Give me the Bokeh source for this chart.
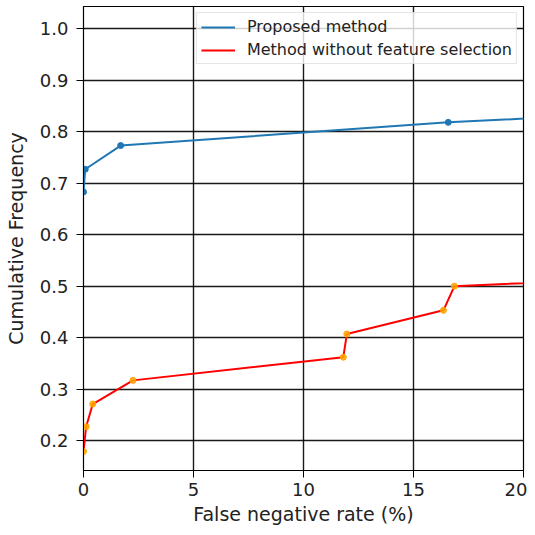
from bokeh.plotting import figure
from bokeh.models import Range1d, FixedTicker, Legend, LegendItem
from bokeh.embed import file_html
from bokeh.resources import INLINE

# Data
prop_fnr = [0.0, 0.08, 1.69, 16.58, 25.0]
prop_freq = [0.683, 0.727, 0.773, 0.818, 0.836]

nofs_fnr = [0.0, 0.12, 0.42, 2.25, 11.81, 11.97, 16.36, 16.86, 25.0]
nofs_freq = [0.179, 0.227, 0.271, 0.317, 0.362, 0.407, 0.453, 0.500, 0.515]

x_ticks = [0, 5, 10, 15, 20]
y_ticks = [0.2, 0.3, 0.4, 0.5, 0.6, 0.7, 0.8, 0.9, 1.0]

FONT = "DejaVu Sans"

p = figure(width=527, height=527, output_backend="svg", toolbar_location=None,
           x_range=Range1d(0, 20), y_range=Range1d(0.142, 1.043),
           min_border_left=83, min_border_right=4, min_border_top=6, min_border_bottom=57)

p.outline_line_color = "black"
p.outline_line_width = 1.2

for ax in (p.xaxis[0], p.yaxis[0]):
    ax.axis_line_color = "black"
    ax.major_tick_line_color = "black"
    ax.major_tick_out = 7
    ax.major_tick_in = 0
    ax.minor_tick_line_color = None
    ax.major_label_text_font = FONT
    ax.major_label_text_font_size = "18px"
    ax.major_label_text_color = "#222222"
    ax.axis_label_text_font = FONT
    ax.axis_label_text_font_size = "19px"
    ax.axis_label_text_font_style = "normal"
    ax.axis_label_text_color = "#222222"

p.xaxis.ticker = FixedTicker(ticks=x_ticks)
p.yaxis.ticker = FixedTicker(ticks=y_ticks)
p.xaxis.major_label_overrides = {t: str(t) for t in x_ticks}
p.yaxis.major_label_overrides = {t: f"{t:.1f}" for t in y_ticks}
p.xaxis.major_label_standoff = 5
p.yaxis.major_label_standoff = 8
p.xaxis.axis_label = "False negative rate (%)"
p.yaxis.axis_label = "Cumulative Frequency"
p.xaxis.axis_label_standoff = 4
p.yaxis.axis_label_standoff = 10

p.xgrid.grid_line_color = "black"
p.ygrid.grid_line_color = "black"
p.xgrid.grid_line_width = 1.4
p.ygrid.grid_line_width = 1.4
p.xgrid.grid_line_alpha = 0.9
p.ygrid.grid_line_alpha = 0.9

blue = "#1f77b4"
l1 = p.line(prop_fnr, prop_freq, line_color=blue, line_width=2)
m1 = p.scatter(prop_fnr, prop_freq, size=6, fill_color=blue, line_color=blue)
l2 = p.line(nofs_fnr, nofs_freq, line_color="red", line_width=2)
m2 = p.scatter(nofs_fnr, nofs_freq, size=6, fill_color="orange", line_color="orange", fill_alpha=0.85)

# small markers used only for the legend glyphs
d1 = p.scatter([], [], size=3, fill_color=blue, line_color=blue)
d2 = p.scatter([], [], size=3, fill_color="red", line_color="red")

legend = Legend(items=[
    LegendItem(label="Proposed method", renderers=[l1, d1]),
    LegendItem(label="Method without feature selection", renderers=[l2, d2]),
], location="top_right")
legend.label_text_font = FONT
legend.label_text_font_size = "16px"
legend.label_text_color = "#222222"
legend.label_height = 18
legend.glyph_height = 18
legend.glyph_width = 34
legend.label_standoff = 12
legend.spacing = 4
legend.padding = 4
legend.margin = 6
legend.border_line_color = "#cccccc"
legend.border_line_width = 1
legend.background_fill_alpha = 0.8
p.add_layout(legend)

open("out.html", "w").write(file_html(p, INLINE))
